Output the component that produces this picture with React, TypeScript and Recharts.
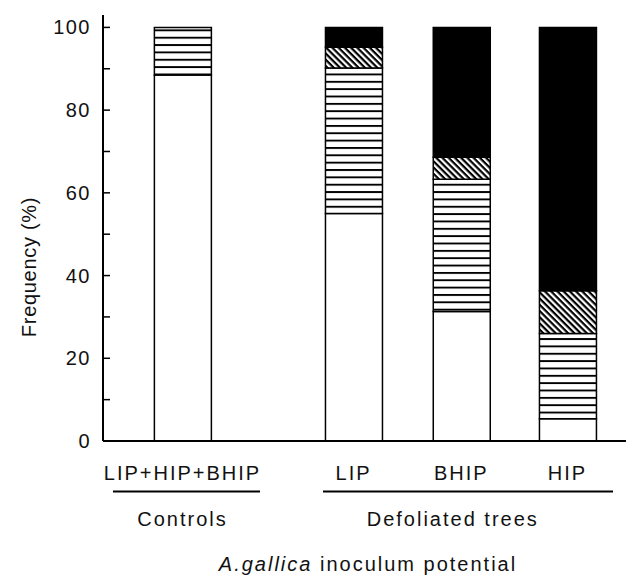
import React from 'react';
import { BarChart, Bar, XAxis, YAxis, Label } from 'recharts';

// bars, left to right
const barNames = ['LIP+HIP+BHIP', 'LIP', 'BHIP', 'HIP'];
const barPositions = [0, 1.595, 2.6, 3.59];

// frequency (%) of each class, bottom to top
const whiteShare = [88.5, 55, 31.3, 5.4];
const stripeShare = [11.5, 35.2, 32, 20.6];
const hatchShare = [0, 5, 5.3, 10.3];
const blackShare = [0, 4.8, 31.4, 63.7];

// groups under the bar labels
const groupNames = ['Controls', 'Defoliated trees'];
const groupCenters = [0, 2.52];
const groupLineFrom = [-0.648, 1.31];
const groupLineTo = [0.723, 4.014];

const yTicks = [0, 10, 20, 30, 40, 50, 60, 70, 80, 90, 100];
const yLabelled = [0, 20, 40, 60, 80, 100];

const W = 626;
const H = 575;
const Y_AXIS_W = 103;
const X_DOMAIN: [number, number] = [-0.741, 4.135];
const PX_PER_UNIT = (W - Y_AXIS_W) / (X_DOMAIN[1] - X_DOMAIN[0]);
const FONT = '"Liberation Sans", Arial, sans-serif';

const data = barNames.map((name, i) => ({
  name,
  pos: barPositions[i],
  white: whiteShare[i],
  stripes: stripeShare[i],
  hatch: hatchShare[i],
  black: blackShare[i],
}));

const YTick = ({ x, y, payload }: any) => {
  const v = payload.value;
  return (
    <g>
      <line x1={x} x2={x + 7} y1={y} y2={y} stroke="#000" strokeWidth={1.5} />
      {yLabelled.includes(v) && (
        <text x={x - 12} y={y + 7} textAnchor="end" fontSize={20} letterSpacing={1.5} fill="#111" fontFamily={FONT}>
          {v}
        </text>
      )}
    </g>
  );
};

const BarTick = ({ x, y, payload }: any) => {
  const i = barPositions.indexOf(payload.value);
  return (
    <text x={x} y={y + 38.5} textAnchor="middle" fontSize={20} letterSpacing={2} fill="#111" fontFamily={FONT}>
      {barNames[i]}
    </text>
  );
};

const GroupTick = ({ x, y, payload }: any) => {
  const i = groupCenters.indexOf(payload.value);
  if (i < 0) return null;
  const c = groupCenters[i];
  return (
    <g>
      <line
        x1={x + (groupLineFrom[i] - c) * PX_PER_UNIT}
        x2={x + (groupLineTo[i] - c) * PX_PER_UNIT}
        y1={y + 8.5}
        y2={y + 8.5}
        stroke="#000"
        strokeWidth={2}
      />
      <text x={x} y={y + 42.5} textAnchor="middle" fontSize={20} letterSpacing={2} fill="#111" fontFamily={FONT}>
        {groupNames[i]}
      </text>
    </g>
  );
};

export default function App() {
  return (
    <div style={{ position: 'absolute', left: 0, top: 0, background: '#fff' }}>
      <BarChart width={W} height={H} data={data} margin={{ top: 15, right: 0, left: 0, bottom: 0 }}>
        <defs>
          <pattern id="stripes" patternUnits="userSpaceOnUse" width={8} height={7.35}>
            <rect width={8} height={7.35} fill="#fff" />
            <rect y={0} width={8} height={1.9} fill="#000" />
          </pattern>
          <pattern id="hatch" patternUnits="userSpaceOnUse" width={4.4} height={4.4} patternTransform="rotate(45)">
            <rect width={4.4} height={4.4} fill="#fff" />
            <rect width={4.4} height={2.2} fill="#000" />
          </pattern>
        </defs>
        <XAxis
          xAxisId="a"
          dataKey="pos"
          type="number"
          domain={X_DOMAIN}
          ticks={barPositions}
          interval={0}
          height={42}
          tickSize={0}
          tickMargin={0}
          tickLine={false}
          axisLine={{ stroke: '#000', strokeWidth: 2 }}
          tick={<BarTick />}
        />
        <XAxis
          xAxisId="b"
          dataKey="pos"
          type="number"
          domain={X_DOMAIN}
          ticks={groupCenters}
          interval={0}
          height={92}
          tickSize={0}
          tickMargin={0}
          tickLine={false}
          axisLine={false}
          tick={<GroupTick />}
        >
          <Label
            content={() => (
              <text x={368} y={571} textAnchor="middle" fontSize={20} letterSpacing={2} fill="#111" fontFamily={FONT}>
                <tspan fontStyle="italic">A.gallica</tspan> inoculum potential
              </text>
            )}
          />
        </XAxis>
        <YAxis
          type="number"
          domain={[0, 103]}
          ticks={yTicks}
          interval={0}
          width={Y_AXIS_W}
          tickSize={0}
          tickMargin={0}
          tickLine={false}
          axisLine={{ stroke: '#000', strokeWidth: 2 }}
          tick={<YTick />}
        >
          <Label
            content={(p: any) => {
              const vb = p.viewBox || { y: 15, height: 426 };
              const cy = vb.y + vb.height / 2 + 39;
              return (
                <text
                  x={29}
                  y={cy}
                  transform={`rotate(-90, 29, ${cy})`}
                  textAnchor="middle"
                  dominantBaseline="central"
                  fontSize={20}
                  letterSpacing={0.7}
                  fill="#111"
                  fontFamily={FONT}
                >
                  Frequency (%)
                </text>
              );
            }}
          />
        </YAxis>
        <Bar xAxisId="a" dataKey="white" stackId="s" barSize={57} fill="#fff" stroke="#000" strokeWidth={1.5} isAnimationActive={false} />
        <Bar xAxisId="a" dataKey="stripes" stackId="s" barSize={57} fill="url(#stripes)" stroke="#000" strokeWidth={1.5} isAnimationActive={false} />
        <Bar xAxisId="a" dataKey="hatch" stackId="s" barSize={57} fill="url(#hatch)" stroke="#000" strokeWidth={1.5} isAnimationActive={false} />
        <Bar xAxisId="a" dataKey="black" stackId="s" barSize={57} fill="#000" stroke="#000" strokeWidth={1.5} isAnimationActive={false} />
      </BarChart>
    </div>
  );
}
